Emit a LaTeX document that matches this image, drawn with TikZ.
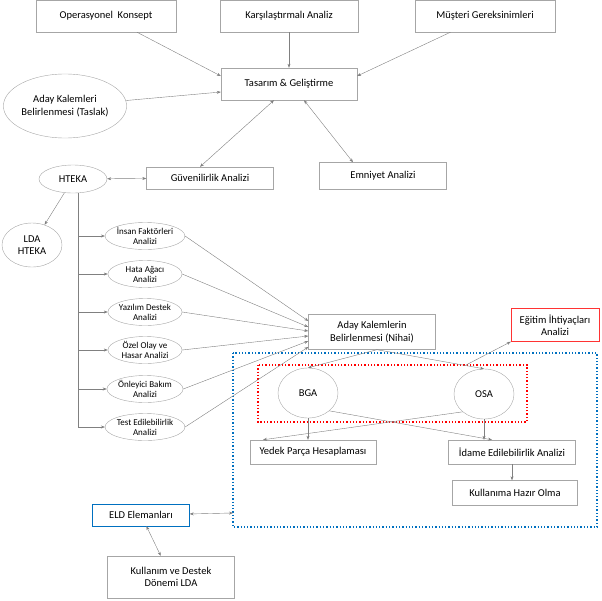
\documentclass[tikz,border=0pt]{standalone}
\usepackage{fontspec}
\setmainfont{Carlito}
\usetikzlibrary{shapes.geometric,arrows.meta}
\definecolor{dblue}{RGB}{0,112,192}
\begin{document}
\begin{tikzpicture}[x=1pt,y=-1pt,
 font=\fontsize{10.5}{12.5}\selectfont,
 bx/.style={draw=gray!70,rectangle,align=center,minimum height=32pt},
 el/.style={draw=gray!70,ellipse,align=center,inner sep=0pt},
 sm/.style={el,minimum width=74pt,minimum height=27pt,font=\fontsize{9}{10}\selectfont},
 ar/.style={draw=gray,-{Stealth[length=4pt,width=3pt]}},
 da/.style={draw=gray,{Stealth[length=4pt,width=3pt]}-{Stealth[length=4pt,width=3pt]}}]
\useasboundingbox (0,0) rectangle (602,600);
\node[bx,minimum width=140pt] (op) at (106,16) {Operasyonel\ \ Konsept};
\node[bx,minimum width=138pt] (ka) at (289,16) {Karşılaştırmalı Analiz};
\node[bx,minimum width=140pt] (mg) at (485,16) {Müşteri Gereksinimleri};
\node[bx,minimum width=136pt] (tg) at (289,84) {Tasarım \& Geliştirme};
\node[el,minimum width=116pt,minimum height=64pt] (at) at (65,106) {Aday Kalemleri\\Belirlenmesi (Taslak)};
\node[bx,minimum width=127pt,minimum height=22pt] (ga) at (210,178) {Güvenilirlik Analizi};
\node[bx,minimum width=127pt,minimum height=27pt] (ea) at (383,176) {Emniyet Analizi};
\node[el,minimum width=68pt,minimum height=28pt] (ht) at (73,179) {HTEKA};
\node[el,minimum width=60pt,minimum height=44pt] (lda) at (32,245) {LDA\\HTEKA};
\node[sm] (e1) at (145,236) {İnsan Faktörleri\\Analizi};
\node[sm] (e2) at (145,274) {Hata Ağacı\\Analizi};
\node[sm] (e3) at (145,312) {Yazılım Destek\\Analizi};
\node[sm] (e4) at (145,350) {Özel Olay ve\\Hasar Analizi};
\node[sm] (e5) at (145,389) {Önleyici Bakım\\Analizi};
\node[sm] (e6) at (145,427) {Test Edilebilirlik\\Analizi};
\node[bx,minimum width=127pt,minimum height=35pt] (nh) at (372,332) {Aday Kalemlerin\\Belirlenmesi (Nihai)};
\node[bx,draw=red!80,minimum width=88pt,minimum height=33pt] (eg) at (555,325) {Eğitim İhtiyaçları\\Analizi};
\draw[dblue,dotted,line width=1.3pt] (233,353) rectangle (597,527);
\draw[red,dotted,line width=1.3pt] (258,365) rectangle (527,422);
\coordinate (bl) at (233,513);
\coordinate (rt) at (466,365);
\node[el,minimum width=60pt,minimum height=50pt] (bga) at (308,393) {BGA};
\node[el,minimum width=60pt,minimum height=50pt] (osa) at (484,394) {OSA};
\node[bx,minimum width=126pt,minimum height=24pt] (yp) at (313,452) {Yedek Parça Hesaplaması};
\node[bx,minimum width=127pt,minimum height=24pt] (id) at (512,452) {İdame Edilebilirlik Analizi};
\node[bx,minimum width=125pt,minimum height=25pt] (ku) at (515,493) {Kullanıma Hazır Olma};
\node[bx,draw=dblue,minimum width=97pt,minimum height=22pt] (eld) at (141,515) {ELD Elemanları};
\node[bx,minimum width=127pt,minimum height=42pt] (kd) at (171,577) {Kullanım ve Destek\\Dönemi LDA};
\draw[ar] (op) -- (tg.west|-0,76);
\draw[ar] (ka) -- (tg);
\draw[ar] (mg) -- (tg.east|-0,76);
\draw[ar] (at) -- (tg.west|-0,92);
\draw[da] ([xshift=-15pt]tg.south) -- ([xshift=-10pt]ga.north);
\draw[da] ([xshift=15pt]tg.south) -- ([xshift=-30pt]ea.north);
\draw[da] (ht) -- (ga);
\draw[ar] (ht) -- (lda);
\draw[gray] (78,193) -- (78,428);
\foreach \e in {e1,e2,e3,e4,e5,e6}{\draw[ar] (78,0|-\e) -- (\e);}
\draw[ar] (e1.east) -- (nh.west|-0,321);
\draw[ar] (e2.east) -- (nh.west|-0,327);
\draw[ar] (e3.east) -- (nh.west|-0,331);
\draw[ar] (e4.east) -- (nh.west|-0,336);
\draw[ar] (e5.east) -- (nh.west|-0,341);
\draw[ar] (e6.east) -- (nh.west|-0,347);
\draw[ar] ([xshift=5pt]nh.south) -- (bga.north);
\draw[ar] ([xshift=5pt]nh.south) -- (osa.north);
\draw[ar] (rt) -- (eg.south west);
\draw[ar] (bga.south) -- (bga.south|-yp.north);
\draw[ar] (osa.south) -- (osa.south|-id.north);
\draw[ar] (bga.south east) -- ([xshift=-20pt]id.north);
\draw[ar] (osa.south west) -- ([xshift=-50pt]yp.north);
\draw[ar] (id) -- (id.south|-ku.north);
\draw[da] (eld) -- (bl);
\draw[da] (eld) -- (kd);
\end{tikzpicture}
\end{document}
